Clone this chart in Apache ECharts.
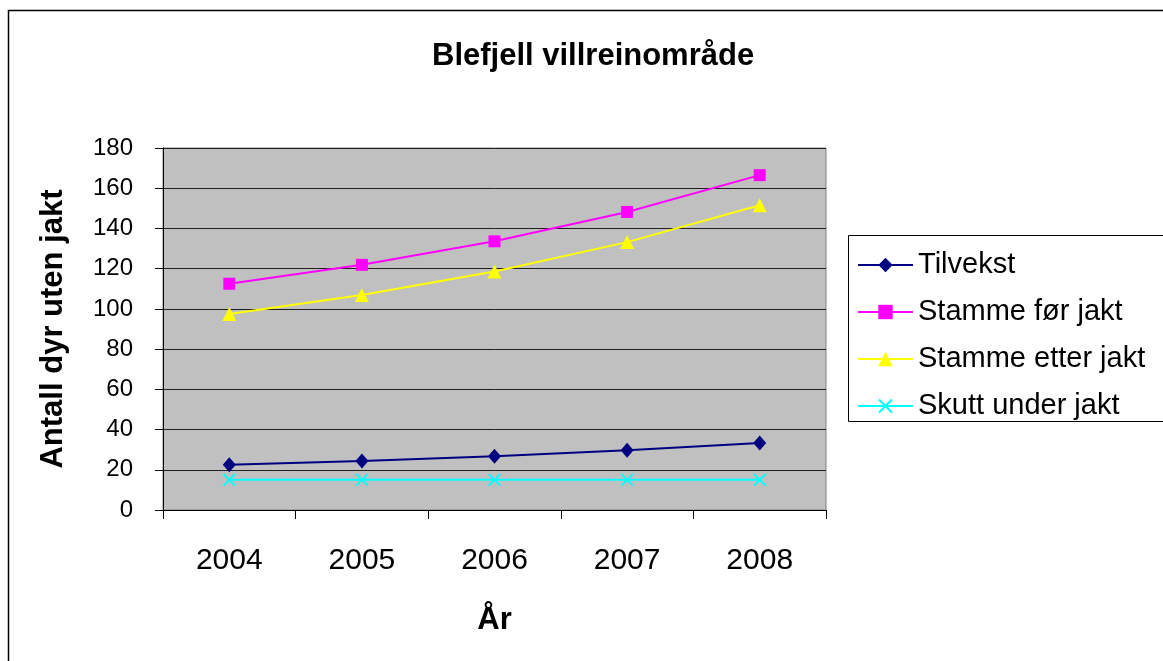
<!DOCTYPE html>
<html>
<head>
<meta charset="utf-8">
<script src="https://cdn.jsdelivr.net/npm/echarts@6/dist/echarts.min.js"></script>
<style>
  html, body { margin: 0; padding: 0; background: #fff; }
  #chart { width: 1163px; height: 661px; }
</style>
</head>
<body>
<div id="chart"></div>
<script>
// data
const years = ['2004', '2005', '2006', '2007', '2008'];
const tilvekst = [22.5, 24.4, 26.7, 29.7, 33.3];
const stammeFor = [112.5, 121.9, 133.6, 148.2, 166.5];
const stammeEtter = [97.5, 106.9, 118.6, 133.2, 151.5];
const skutt = [15, 15, 15, 15, 15];

const font = '"Liberation Sans", Arial, sans-serif';
const crossPath = 'path://M0,1L1,0L5,4L9,0L10,1L6,5L10,9L9,10L5,6L1,10L0,9L4,5Z';

const mkSeries = (name, data, color, symbol, size) => ({
    name: name,
    type: 'line',
    data: data,
    symbol: symbol,
    symbolSize: size,
    showAllSymbol: true,
    lineStyle: { color: color, width: 2 },
    itemStyle: { color: color },
    emphasis: { disabled: true },
    animation: false
});

const chart = echarts.init(document.getElementById('chart'));

chart.setOption({
    animation: false,
    textStyle: { fontFamily: font },
    title: {
        text: 'Blefjell villreinområde',
        left: 432,
        top: 41,
        padding: 0,
        textStyle: { fontFamily: font, fontSize: 31, fontWeight: 'bold', color: '#000' }
    },
    graphic: [
        {
            type: 'rect',
            shape: { x: 8.5, y: 10.5, width: 1200, height: 700 },
            style: { fill: 'none', stroke: '#000', lineWidth: 1.5 },
            z: -10
        },
        {
            type: 'rect',
            shape: { x: 848.5, y: 235.5, width: 400, height: 186 },
            style: { fill: '#fff', stroke: '#000', lineWidth: 1 },
            z: -5
        }
    ],
    legend: {
        orient: 'vertical',
        left: 857,
        top: 250,
        padding: 0,
        itemWidth: 55,
        itemHeight: 18,
        itemGap: 17,
        selectedMode: false,
        textStyle: { fontFamily: font, fontSize: 29, color: '#000', lineHeight: 30 },
        data: ['Tilvekst', 'Stamme før jakt', 'Stamme etter jakt', 'Skutt under jakt']
    },
    grid: {
        left: 163,
        top: 148,
        right: 337,
        bottom: 151,
        show: true,
        backgroundColor: '#c0c0c0',
        borderColor: '#808080',
        borderWidth: 1
    },
    xAxis: {
        type: 'category',
        data: years,
        boundaryGap: true,
        name: 'År',
        nameLocation: 'middle',
        nameGap: 95,
        nameTextStyle: { fontFamily: font, fontSize: 31, fontWeight: 'bold', color: '#000' },
        axisLine: { lineStyle: { color: '#000', width: 1 } },
        axisTick: { show: true, length: 9, inside: false, lineStyle: { color: '#000' } },
        axisLabel: { margin: 36, fontFamily: font, fontSize: 30, color: '#000' },
        splitLine: { show: false }
    },
    yAxis: {
        type: 'value',
        min: 0,
        max: 180,
        interval: 20,
        name: 'Antall dyr uten jakt',
        nameLocation: 'middle',
        nameGap: 94,
        nameTextStyle: { fontFamily: font, fontSize: 31, fontWeight: 'bold', color: '#000' },
        axisLine: { show: true, lineStyle: { color: '#000', width: 1 } },
        axisTick: { show: true, length: 8, lineStyle: { color: '#000' } },
        axisLabel: { margin: 30, padding: [7, 0, 0, 0], fontFamily: font, fontSize: 24, color: '#000' },
        splitLine: { show: true, lineStyle: { color: '#202020', width: 1 } }
    },
    series: [
        mkSeries('Tilvekst', tilvekst, '#000080', 'diamond', [13, 15]),
        mkSeries('Stamme før jakt', stammeFor, '#ff00ff', 'rect', 12),
        mkSeries('Stamme etter jakt', stammeEtter, '#ffff00', 'triangle', 14),
        mkSeries('Skutt under jakt', skutt, '#00ffff', crossPath, 13)
    ]
});
</script>
</body>
</html>
